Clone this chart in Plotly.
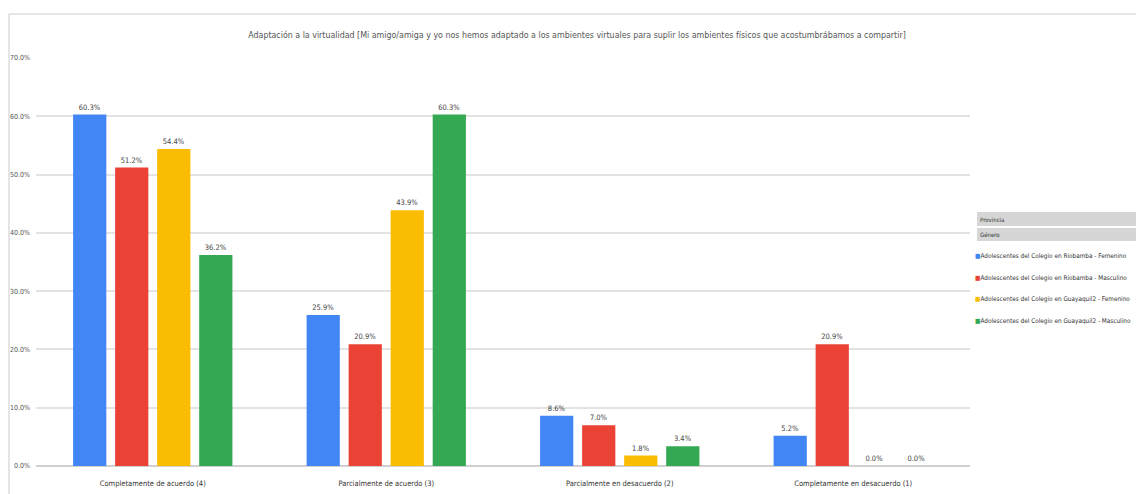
import plotly.graph_objects as go

categories = ["Completamente de acuerdo (4)", "Parcialmente de acuerdo (3)",
              "Parcialmente en desacuerdo (2)", "Completamente en desacuerdo (1)"]
series_names = ["Adolescentes del Colegio en Riobamba - Femenino",
                "Adolescentes del Colegio en Riobamba - Masculino",
                "Adolescentes del Colegio en Guayaquil2 - Femenino",
                "Adolescentes del Colegio en Guayaquil2 - Masculino"]
riobamba_f = [0.603, 0.259, 0.086, 0.052]
riobamba_m = [0.512, 0.209, 0.070, 0.209]
guayaquil_f = [0.544, 0.439, 0.018, 0.000]
guayaquil_m = [0.362, 0.603, 0.034, 0.000]
y_ticks = [0, 0.1, 0.2, 0.3, 0.4, 0.5, 0.6, 0.7]
colors = ["#4285F4", "#EA4335", "#FBBC04", "#34A853"]
title_text = ("Adaptación a la virtualidad [Mi amigo/amiga y yo nos hemos adaptado a los "
              "ambientes virtuales para suplir los ambientes físicos que acostumbrábamos a compartir]")

FONT = "Liberation Sans Narrow, DejaVu Sans Condensed, Arial Narrow, sans-serif"
W, H = 1136, 494
L, R, T, B = 36, 166, 58, 28
PW, PH = W - L - R, H - T - B


def px(x):
    return (x - L) / PW


def py(y):
    return (H - B - y) / PH


fig = go.Figure()
all_series = [riobamba_f, riobamba_m, guayaquil_f, guayaquil_m]
for name, vals, col in zip(series_names, all_series, colors):
    fig.add_trace(go.Bar(
        x=categories, y=vals, name=name, marker_color=col, marker_line_width=0,
        text=[f"{v*100:.1f}%" for v in vals], textposition="outside", cliponaxis=False,
        textfont=dict(family=FONT, size=7.5, color="#444444"), showlegend=False,
    ))
# legend entries: coloured small square drawn right before the text
for i, (name, col) in enumerate(zip(series_names, colors)):
    fig.add_trace(go.Scatter(
        x=[categories[0]], y=[None], mode="markers",
        name=f"<span style='color:{col}'>■</span>{name}",
        marker=dict(symbol="square", size=1, color="rgba(0,0,0,0)"), legendgroup=f"g{i}",
        showlegend=True, hoverinfo="skip",
    ))

shapes = [
    dict(type="line", xref="paper", yref="paper", x0=px(9), x1=px(1140), y0=py(14), y1=py(14),
         line=dict(color="#dcdcdc", width=1.5)),
    dict(type="line", xref="paper", yref="paper", x0=px(9), x1=px(9), y0=py(14), y1=py(500),
         line=dict(color="#dcdcdc", width=1.5)),
    dict(type="rect", xref="paper", yref="paper", x0=px(977), x1=px(1140), y0=py(212), y1=py(226),
         fillcolor="#d6d6d6", line=dict(width=0), layer="above"),
    dict(type="rect", xref="paper", yref="paper", x0=px(977), x1=px(1140), y0=py(228), y1=py(241),
         fillcolor="#d6d6d6", line=dict(width=0), layer="above"),
]
annotations = [
    dict(text="Provincia", xref="paper", yref="paper", x=px(978), y=py(219), xanchor="left",
         yanchor="middle", showarrow=False, font=dict(family=FONT, size=6, color="#333333")),
    dict(text="Género", xref="paper", yref="paper", x=px(978), y=py(234.5), xanchor="left",
         yanchor="middle", showarrow=False, font=dict(family=FONT, size=6, color="#333333")),
]

fig.update_layout(
    width=W, height=H,
    margin=dict(l=L, r=R, t=T, b=B, autoexpand=False),
    paper_bgcolor="white", plot_bgcolor="white",
    barmode="group", bargap=0.28, bargroupgap=0.21,
    title=dict(text=title_text, x=577 / W, xref="container", xanchor="center",
               y=1 - 35 / H, yref="container", yanchor="middle",
               font=dict(family=FONT, size=8.8, color="#555555")),
    font=dict(family=FONT, size=8, color="#444444"),
    xaxis=dict(showgrid=False, showline=False, ticks="", ticklabelstandoff=11,
               tickfont=dict(family=FONT, size=7.5, color="#333333")),
    yaxis=dict(range=[0, 0.7], tickvals=y_ticks, tickformat=".1%", showgrid=True,
               gridcolor="#e3e3e3", gridwidth=1.5, zeroline=True, zerolinecolor="#d0d0d0",
               zerolinewidth=1.5, ticks="", ticklabelstandoff=5,
               tickfont=dict(family=FONT, size=7, color="#555555")),
    legend=dict(x=950 / W, xref="container", y=1 - 241 / H, yref="container",
                xanchor="left", yanchor="top", traceorder="grouped", tracegroupgap=2.5,
                bgcolor="rgba(0,0,0,0)", borderwidth=0, indentation=-15,
                font=dict(family=FONT, size=6.4, color="#333333")),
    shapes=shapes, annotations=annotations,
)

fig.write_html("out.html", config={"displayModeBar": False},
               post_script="document.body.style.margin='0px';")
